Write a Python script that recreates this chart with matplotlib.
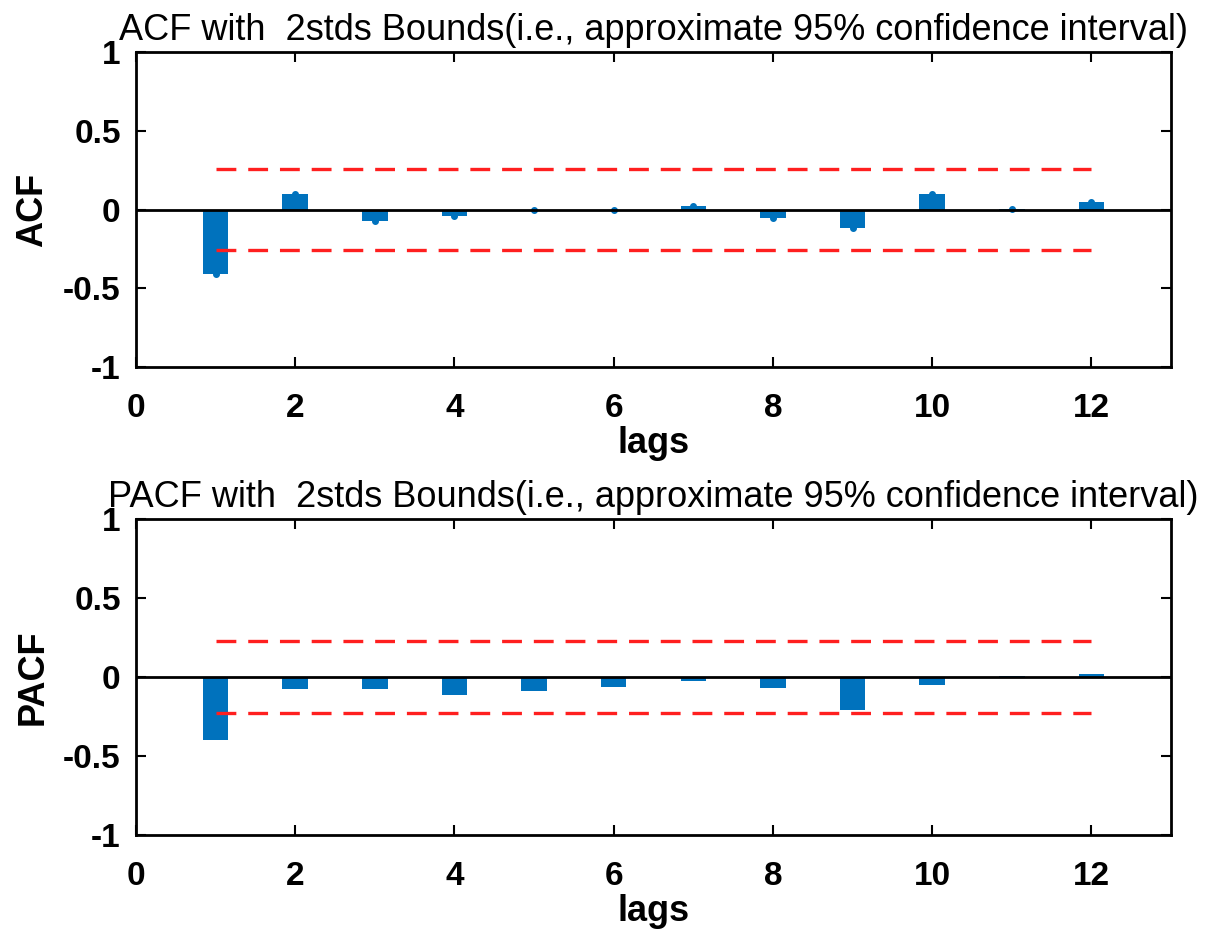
import matplotlib.pyplot as plt
import numpy as np

plt.rcParams['font.family'] = ['Liberation Sans', 'DejaVu Sans']

# --- Datos ---
lags = np.arange(1, 13)
acf_vals = [-0.41, 0.10, -0.076, -0.04, -0.005, -0.006, 0.02, -0.055, -0.12, 0.10, 0.003, 0.045]
pacf_vals = [-0.40, -0.076, -0.076, -0.113, -0.086, -0.061, -0.027, -0.072, -0.21, -0.05, 0.004, 0.022]
acf_bound = 0.257
pacf_bound = 0.225

bar_color = '#0072BD'

fig = plt.figure(figsize=(12.16, 9.32), dpi=100)
ax1 = fig.add_axes([0.1118, 0.6062, 0.8512, 0.338])
ax2 = fig.add_axes([0.1118, 0.1041, 0.8512, 0.339])


def draw_panel(ax, vals, bound, name, tips):
    ax.bar(lags, vals, width=0.32, color=bar_color, zorder=2)
    if tips:
        ax.plot(lags, vals, 'o', color=bar_color, markersize=4, zorder=3)
    ax.axhline(0, color='black', linewidth=2, zorder=4)
    # limites de confianza, discontinuos de la lag 1 a la 12
    ax.hlines([bound, -bound], 1, 12, colors='#FF1F1F', linestyles=(0, (5.95, 3.57)),
              linewidth=2.4, zorder=5)
    ax.set_xlim(0, 13)
    ax.set_ylim(-1, 1)
    ax.set_xticks([0, 2, 4, 6, 8, 10, 12])
    ax.set_yticks([-1, -0.5, 0, 0.5, 1])
    ax.set_yticklabels(['-1', '-0.5', '0', '0.5', '1'])
    ax.tick_params(direction='in', top=True, right=True, length=7, width=1.5,
                   labelsize=24)
    ax.tick_params(axis='x', pad=19)
    ax.tick_params(axis='y', pad=11)
    for lab in ax.get_xticklabels() + ax.get_yticklabels():
        lab.set_fontweight('bold')
    for sp in ax.spines.values():
        sp.set_linewidth(2)
    ax.set_xlabel('lags', fontsize=26, fontweight='bold', labelpad=1)
    ax.set_ylabel(name, fontsize=26, fontweight='bold', labelpad=9)
    ax.set_title(name + ' with  2stds Bounds(i.e., approximate 95% confidence interval)',
                 fontsize=26, pad=9)


draw_panel(ax1, acf_vals, acf_bound, 'ACF', True)
draw_panel(ax2, pacf_vals, pacf_bound, 'PACF', False)

fig.savefig('out.png', dpi=100)
